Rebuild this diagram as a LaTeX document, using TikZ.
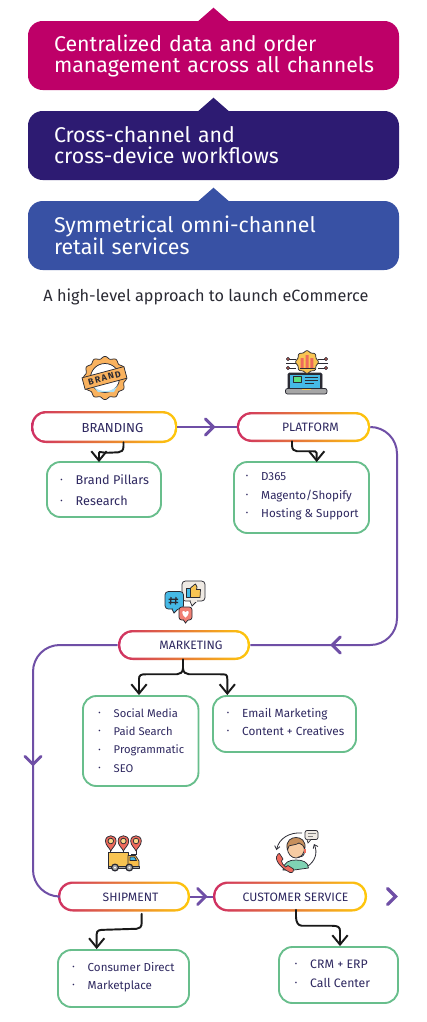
\documentclass[tikz,border=0pt]{standalone}
\usepackage{fontspec}
\setmainfont{Fira Sans}
\usetikzlibrary{calc,arrows.meta,decorations.markings}
\definecolor{bred}{HTML}{BE0068}
\definecolor{bnavy}{HTML}{2D1B72}
\definecolor{bblue}{HTML}{3851A4}
\definecolor{flow}{HTML}{6F4FA6}
\definecolor{boxgreen}{HTML}{68BE8C}
\definecolor{inkc}{HTML}{2E2860}
\definecolor{gradL}{HTML}{CF2F63}
\definecolor{gradM}{HTML}{EE7F30}
\definecolor{gradR}{HTML}{FFC90A}
\definecolor{iconk}{HTML}{2A2A33}
\definecolor{iorange}{HTML}{F9B25E}
\definecolor{iyellow}{HTML}{F8C452}
\definecolor{iblue}{HTML}{45B9E6}
\definecolor{ired}{HTML}{EE6A5C}
\definecolor{igrey}{HTML}{EFEAE4}
\definecolor{iskin}{HTML}{F6CBA2}
\definecolor{ihair}{HTML}{C68F5C}
\definecolor{iteal}{HTML}{7FD3B4}
\newcommand\itemdot{\makebox[11.6pt][l]{\raisebox{.3ex}{\fontsize{5.5}{5.5}\selectfont •}}}
\newcommand\bannerindent{\hspace*{4.5pt}}
\tikzset{
  x=0.75pt,y=-0.75pt,
  banner/.style={fill=#1,rounded corners=11pt,minimum width=278.25pt,minimum height=51.75pt,
    inner xsep=15pt,inner ysep=0pt,text width=248.25pt,align=left,text=white,
    font=\fontsize{16}{15.7}\selectfont},
  pill/.style={rounded corners=11pt,minimum width=#1,minimum height=22.5pt,inner sep=0pt,
    path picture={
      \shade[left color=gradL,middle color=gradM,right color=gradR]
        (path picture bounding box.south west) rectangle (path picture bounding box.north east);
      \fill[white,rounded corners=9.5pt]
        ([xshift=1.7pt,yshift=1.7pt]path picture bounding box.south west) rectangle
        ([xshift=-1.7pt,yshift=-1.7pt]path picture bounding box.north east);
    }},
  pilltext/.style={text=inkc,inner sep=0pt,font=\fontsize{9.1}{10}\selectfont},
  listbox/.style={draw=boxgreen,line width=1.4pt,rounded corners=10pt,fill=white,inner sep=0pt},
  listtext/.style={anchor=west,align=left,text=inkc,inner sep=0pt},
  flowline/.style={draw=flow,line width=1.5pt},
  chevstroke/.style={draw=flow,sharp corners,line width=2.2pt,line cap=round,line join=miter},
  chevat/.style={postaction={decorate,decoration={markings,mark=at position #1 with {
      \draw[chevstroke] (-6pt,-6pt)--(0pt,0pt)--(-6pt,6pt);}}}},
  curl/.style={draw=black!90,line width=1.45pt,line cap=round,
    -{Straight Barb[length=7pt,width=11.5pt,line width=1.45pt]}},
  curlplain/.style={draw=black!90,line width=1.45pt,line cap=round},
  ic/.style={draw=iconk,line width=0.55pt,line join=round},
}
\begin{document}
\begin{tikzpicture}
\useasboundingbox (0,0) rectangle (426,1022);
\fill[white] (0,0) rectangle (426,1022);
% banners
\node[banner=bred] (b1) at (213.5,55.5) {\bannerindent Centralized data and order\\\bannerindent management across all channels};
\node[banner=bnavy] (b2) at (213.5,145.5) {\bannerindent Cross-channel and\\\bannerindent cross-device workflows};
\node[banner=bblue] (b3) at (213.5,235.5) {\bannerindent Symmetrical omni-channel\\\bannerindent retail services};
\fill[bred] ($(b1.north)+(-16,1)$) -- ($(b1.north)+(0,-13)$) -- ($(b1.north)+(16,1)$) -- cycle;
\fill[bnavy] ($(b2.north)+(-16,1)$) -- ($(b2.north)+(0,-13)$) -- ($(b2.north)+(16,1)$) -- cycle;
\fill[bblue] ($(b3.north)+(-16,1)$) -- ($(b3.north)+(0,-13)$) -- ($(b3.north)+(16,1)$) -- cycle;
\node[text=iconk,inner sep=0pt,font=\fontsize{12.2}{13}\selectfont] (cap) at (206,296.5) {A high-level approach to launch eCommerce};
% pills
\node[pill=109.5pt,minimum height=24pt] (pb) at (104.2,427) {};
\node[pill=100pt] (pp) at (303.5,427) {};
\node[pill=99pt] (pm) at (184,645) {};
\node[pill=99pt] (ps) at (124,896.5) {};
\node[pill=115.5pt] (pc) at (290,896.5) {};
\node[pilltext,font=\fontsize{9.8}{10}\selectfont] (tb) at (112.5,427.5) {BRANDING};
\node[pilltext] (tp) at (310.5,427) {PLATFORM};
\node[pilltext] (tm) at (191,645.5) {MARKETING};
\node[pilltext] (ts) at (130.5,897) {SHIPMENT};
\node[pilltext] (tc) at (295.5,897) {CUSTOMER SERVICE};
% list boxes
\node[listbox,minimum width=85.5pt,minimum height=41.25pt] (lb) at (104,489.5) {};
\node[listbox,minimum width=101.25pt,minimum height=53.25pt] (lp) at (301.5,497.5) {};
\node[listbox,minimum width=86.6pt,minimum height=67.5pt] (lm) at (140.7,741) {};
\node[listbox,minimum width=107.25pt,minimum height=42pt] (le) at (284.5,724) {};
\node[listbox,minimum width=98.25pt,minimum height=42.75pt] (ls) at (123.5,978.5) {};
\node[listbox,minimum width=89.25pt,minimum height=42pt] (lc) at (338.5,975) {};
\node[listtext,font=\fontsize{9.5}{15.4}\selectfont] (xb) at (60,490.3) {\itemdot Brand Pillars\\\itemdot Research};
\node[listtext,font=\fontsize{8.7}{13.7}\selectfont] (xp) at (245.5,496.3) {\itemdot D365\\\itemdot Magento/Shopify\\\itemdot Hosting \& Support};
\node[listtext,font=\fontsize{8.4}{13.7}\selectfont] (xm) at (98,740.5) {\itemdot Social Media\\\itemdot Paid Search\\\itemdot Programmatic\\\itemdot SEO};
\node[listtext,font=\fontsize{8.8}{13.7}\selectfont] (xe) at (226.5,722) {\itemdot Email Marketing\\\itemdot Content + Creatives};
\node[listtext,font=\fontsize{8.7}{13.7}\selectfont] (xs) at (72,977.3) {\itemdot Consumer Direct\\\itemdot Marketplace};
\node[listtext,font=\fontsize{9.2}{13.7}\selectfont] (xc) at (294.5,973.8) {\itemdot CRM + ERP\\\itemdot Call Center};
% flow connectors
\coordinate (turnR) at (397,540);
\coordinate (turnL) at (33,760);
\draw[flowline,chevat=27pt] (pb.east) -- (pp.west);
\draw[flowline,rounded corners=20pt,chevat=-61.5pt] (pp.east) -- (pp.east -| turnR) -- (turnR |- pm.east) -- (pm.east);
\draw[flowline,rounded corners=20pt,chevat=-112pt] (pm.west) -- (pm.west -| turnL) -- (turnL |- ps.west) -- (ps.west);
\draw[flowline,chevat=11.5pt] (ps.east) -- (pc.west);
\coordinate (endtip) at (395.5,896.5);
\draw[chevstroke,line width=2.4pt] ($(endtip)+(-8,-8)$) -- (endtip) -- ($(endtip)+(-8,8)$);
% black connectors
\draw[curl] ($(pb.south)+(19.3,-1)$) -- ++(0,4) .. controls ++(0,4) and ++(3,0) .. ++(-5,6) -- ++(-11,0.5) .. controls ++(-5,0) and ++(0,-2) .. ($(lb.north)+(-5,-8)$) -- ($(lb.north)+(-5,1)$);
\draw[curl] ($(pp.south)+(-11.5,-1)$) -- ++(0,4) .. controls ++(0,4) and ++(-3,0) .. ++(5,6) -- ++(13,0) .. controls ++(5,0) and ++(0,-2) .. ($(lp.north)+(15.2,-8)$) -- ($(lp.north)+(15.2,1)$);
\coordinate (forkM) at ($(pm.south)+(-1,8)$);
\draw[curlplain] ($(pm.south)+(-1,-1)$) -- (forkM);
\draw[curl] (forkM) .. controls ++(0,4) and ++(3,0) .. ++(-6,6) -- ++(-31,0) .. controls ++(-5,0) and ++(0,-4) .. ($(lm.north)+(-1.7,-16)$) -- ($(lm.north)+(-1.7,0)$);
\draw[curl] (forkM) .. controls ++(0,4) and ++(-3,0) .. ++(6,6) -- ++(31,0) .. controls ++(6,0) and ++(0,-5) .. ($(le.north)+(-57.2,-16)$) -- ($(le.north)+(-57.2,0)$);
\draw[curl] ($(ps.south)+(17.7,2)$) -- ++(0,9) .. controls ++(0,4) and ++(3,0) .. ++(-5,6) -- ++(-32,1) .. controls ++(-5,0) and ++(0,-4) .. ($(ls.north)+(-26.8,-15)$) -- ($(ls.north)+(-26.8,0)$);
\draw[curl] ($(pc.south)+(6,-2)$) -- ++(0,7) .. controls ++(0,5) and ++(-4,0) .. ++(6,9) -- ++(30,0) .. controls ++(6,0) and ++(0,-4) .. ($(lc.north)+(1.5,-15)$) -- ($(lc.north)+(1.5,0)$);
% icon: brand badge
\draw[ic,fill=iorange] plot[domain=0:360,samples=145,smooth] ({105+20.5*(1+0.055*cos(12*\x))*cos(\x)},{378+20.5*(1+0.055*cos(12*\x))*sin(\x)});
\draw[ic,fill=white] (105,378) circle (14.5);
\fill[iblue!45] (93,386) .. controls (100,393) and (112,393) .. (118,385) -- (114,392) -- (98,392) -- cycle;
\node[draw=iconk,line width=0.55pt,fill=iorange,rotate=15,minimum width=32.5pt,minimum height=9pt,inner sep=0pt,text=iconk,font=\fontsize{6.6}{7}\bfseries\selectfont] (brandband) at (104.5,378) {B\,R\,A\,N\,D};
% icon: platform
\draw[iconk,line width=0.5pt] (288,359)--(296,359) (288,368)--(296,368) (326,359)--(318,359) (326,368)--(318,368) (286,363.5)--(296,363.5) (328,363.5)--(318,363.5);
\foreach \dx/\dy in {288/359,288/368,326/359,326/368}{\draw[ic,fill=ired] (\dx,\dy) circle (1.7);}
\draw[ic,fill=iconk,rounded corners=1pt] (288,373) rectangle (322,389);
\fill[iblue] (290,375) rectangle (320,388.5);
\draw[ic,fill=iyellow] plot[domain=0:360,samples=97,smooth] ({307+10.6*(1+0.07*cos(8*\x))*cos(\x)},{362+10.6*(1+0.07*cos(8*\x))*sin(\x)});
\fill[ired] (300.7,358) rectangle (303.7,368) (305.5,355) rectangle (308.5,368) (310.3,358) rectangle (313.3,368);
\draw[iconk,line width=0.5pt] (299.5,368.5)--(314.5,368.5);
\draw[ic,fill=iteal!70!green] (293.5,376.5) rectangle (301.5,382.5);
\draw[iconk,line width=0.6pt] (304.5,377)--(318,377) (304.5,380)--(318,380) (304.5,383)--(314,383);
\draw[ic,fill=gray!70,rounded corners=1.5pt] (285.5,388.5) rectangle (327,394);
\fill[iyellow] (302,388.7) rectangle (311,390.3);
% icon: social bubbles
\draw[ic,fill=igrey,rounded corners=2.5pt] (182,581) rectangle (205,601);
\fill[igrey,draw=iconk,line width=0.55pt] (190,601) -- (192,606) -- (197,601);
\fill[igrey] (190.6,599.5) rectangle (196.5,601.6);
\draw[ic,fill=iyellow] (190.5,588) -- (194,585) -- (195.5,584) -- (197,587) -- (196.5,589.5) -- (200.5,589.5) -- (200,597.5) -- (190.5,597.5) -- cycle;
\draw[ic,fill=iblue] (186.5,588.5) rectangle (190.5,597.5);
\draw[ic,fill=iblue,rounded corners=2.5pt] (165,591.5) rectangle (183.5,609);
\fill[iblue,draw=iconk,line width=0.55pt] (172,609) -- (174,613) -- (178,609);
\fill[iblue] (172.6,607.5) rectangle (177.5,609.4);
\draw[iconk,line width=0.9pt] (171,597)--(170.5,604.5) (176,597)--(175.5,604.5) (168.5,599.3)--(178,599.3) (168.5,602.5)--(178,602.5);
\draw[ic,fill=ired!85!white,rounded corners=2pt] (179,607) rectangle (192,620);
\fill[ired!85!white,draw=iconk,line width=0.55pt] (183.5,620) -- (185.5,623) -- (188,620);
\fill[ired!85!white] (184,619) rectangle (187.5,620.4);
\fill[white] (185.5,617.5) .. controls (182,615) and (181.5,611) .. (183.5,611) .. controls (184.5,611) and (185.5,612) .. (185.5,612.5) .. controls (185.5,612) and (186.5,611) .. (187.5,611) .. controls (189.5,611) and (189,615) .. (185.5,617.5) -- cycle;
% icon: truck
\foreach \px in {110.8,123.4,136}{
  \draw[iconk,line width=0.5pt] (\px,850)--(\px,853);
  \draw[ic,fill=ired] (\px,851) .. controls (\px-1.5,847.5) and (\px-5.3,845.5) .. (\px-5.3,841) .. controls (\px-5.3,834) and (\px+5.3,834) .. (\px+5.3,841) .. controls (\px+5.3,845.5) and (\px+1.5,847.5) .. (\px,851) -- cycle;
  \draw[ic,fill=iyellow!70!white] (\px,841) circle (2.8);
}
\draw[iconk,line width=0.5pt] (136,851)--(136,854.5)--(131,854.5);
\draw[ic,fill=iyellow] (108.3,852) rectangle (128,866.5);
\draw[ic,fill=iyellow!90!orange] (128,855.5) -- (135.5,855.5) -- (139,861) -- (139,867.5) -- (128,867.5) -- cycle;
\draw[ic,fill=iblue] (130,857) -- (134.5,857) -- (136.5,860.5) -- (130,860.5) -- cycle;
\draw[ic,fill=gray!70] (108.3,866.5) rectangle (139,868.5);
\foreach \wx in {115,129.3}{\draw[ic,fill=gray!70,line width=0.9pt] (\wx,867.5) circle (3.4); \fill[white] (\wx,867.5) circle (1);}
% icon: agent
\draw[iconk,line width=0.6pt,-{Straight Barb[length=2.5pt,width=4pt]}] (302,833) .. controls (290,832) and (279,838) .. (276.5,850);
\draw[iconk,line width=0.6pt,-{Straight Barb[length=2.5pt,width=4pt]}] (308,866) .. controls (315,861) and (318,853) .. (314,844);
\draw[ic,fill=igrey,rounded corners=1.5pt] (305,830.5) rectangle (318,839.5);
\fill[igrey,draw=iconk,line width=0.5pt] (307,839.5) -- (308,843) -- (311,839.5);
\draw[gray,line width=0.6pt] (307.5,833.5)--(315.5,833.5) (307.5,836.3)--(313,836.3);
\draw[ic,fill=iteal] (283,870) .. controls (284,862) and (289,860) .. (296,860) .. controls (303,860) and (308,862) .. (308.5,868) -- (294,870) -- cycle;
\draw[ic,fill=iskin] (296,848) circle (8.6 and 10);
\draw[ic,fill=ihair] (287.4,850) .. controls (285,840) and (292,837.5) .. (296,837.5) .. controls (300,837.5) and (307,840) .. (304.6,850) .. controls (304,846) and (302,843.5) .. (299,843) .. controls (296,845) and (291,845) .. (289,846) -- (287.4,850) -- cycle;
\draw[iconk,line width=0.6pt] (304.5,851) .. controls (304.5,856) and (302,857) .. (298,857);
\fill[ired] (303.5,849) rectangle (305.5,853);
\draw[draw=iconk,line width=0.5pt,fill=ired] (278,854) .. controls (274,857) and (277,866) .. (290,872.5) .. controls (293,873) and (294,871) .. (293.5,869) -- (288,865.5) -- (285.5,867) .. controls (283,865.5) and (282,863) .. (281.5,861) -- (283,859) -- (279.5,853.5) -- cycle;
\end{tikzpicture}
\end{document}
